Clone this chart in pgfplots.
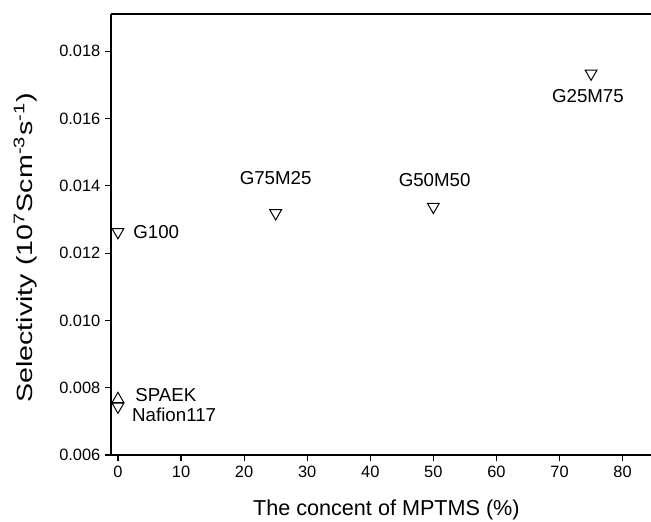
\documentclass[border=0pt]{standalone}
\usepackage{pgfplots}
\pgfplotsset{compat=1.18}
\usetikzlibrary{calc}
\usepackage{fontspec}
\setmainfont{Liberation Sans}
\begin{document}
\begin{tikzpicture}
\begin{axis}[
  scale only axis,
  width=270pt, height=220.5pt,
  xmin=-1.1, xmax=84.5,
  ymin=0.006, ymax=0.01911,
  axis lines=left,
  axis line style={-, line width=0.9pt},
  tick align=outside,
  major tick length=3pt,
  tick style={line width=0.6pt, black},
  xtick={0,10,...,80},
  ytick={0.006,0.008,...,0.0181},
  scaled y ticks=false,
  /pgf/number format/assume math mode=true,
  yticklabel style={/pgf/number format/.cd, fixed, precision=3, fixed zerofill, /tikz/.cd, font=\fontsize{8.2}{9}\selectfont, xshift=1.2pt},
  xticklabel style={font=\fontsize{8.2}{9}\selectfont, yshift=0.8pt},
  xlabel={The concent of MPTMS (\%)},
  xlabel style={at={(axis description cs:0.51,-0.125)}, anchor=center, font=\fontsize{10.8}{12}\selectfont},
  ylabel={\scalebox{1.3}[1.0]{Selectivity (10\textsuperscript{7}Scm\textsuperscript{-3}s\textsuperscript{-1})}},
  ylabel style={at={(axis description cs:-0.159,0.47)}, anchor=center, font=\fontsize{11}{12}\selectfont},
  clip=false,
]
\addplot[only marks, mark=triangle, mark size=3.4pt, mark options={rotate=180, black, line width=0.5pt, fill=white}] coordinates {
  (0,0.01263) (25,0.01319) (50,0.01338) (75,0.01734) (0,0.00744)
};
\addplot[only marks, mark=triangle, mark size=3.4pt, mark options={black, line width=0.5pt, fill=none}] coordinates {
  (0,0.00766)
};
\draw[line width=0.9pt] (rel axis cs:0,1) -- (rel axis cs:1,1);
\begin{scope}[every node/.style={font=\fontsize{9.35}{10}\selectfont, inner sep=0pt}]
\node[anchor=west] at (axis cs:2.38,0.01263) {G100};
\node at (axis cs:25,0.01423) {G75M25};
\node at (axis cs:50.2,0.01417) {G50M50};
\node at (axis cs:74.5,0.01667) {G25M75};
\node[anchor=west] at (axis cs:2.7,0.00778) {SPAEK};
\node[anchor=west] at (axis cs:2.2,0.00719) {Nafion117};
\end{scope}
\end{axis}
\pgfresetboundingbox
\path[use as bounding box] ($(current axis.south west)+(-55.5pt,-33pt)$) rectangle ($(current axis.north east)+(0pt,7pt)$);
\end{tikzpicture}
\end{document}
